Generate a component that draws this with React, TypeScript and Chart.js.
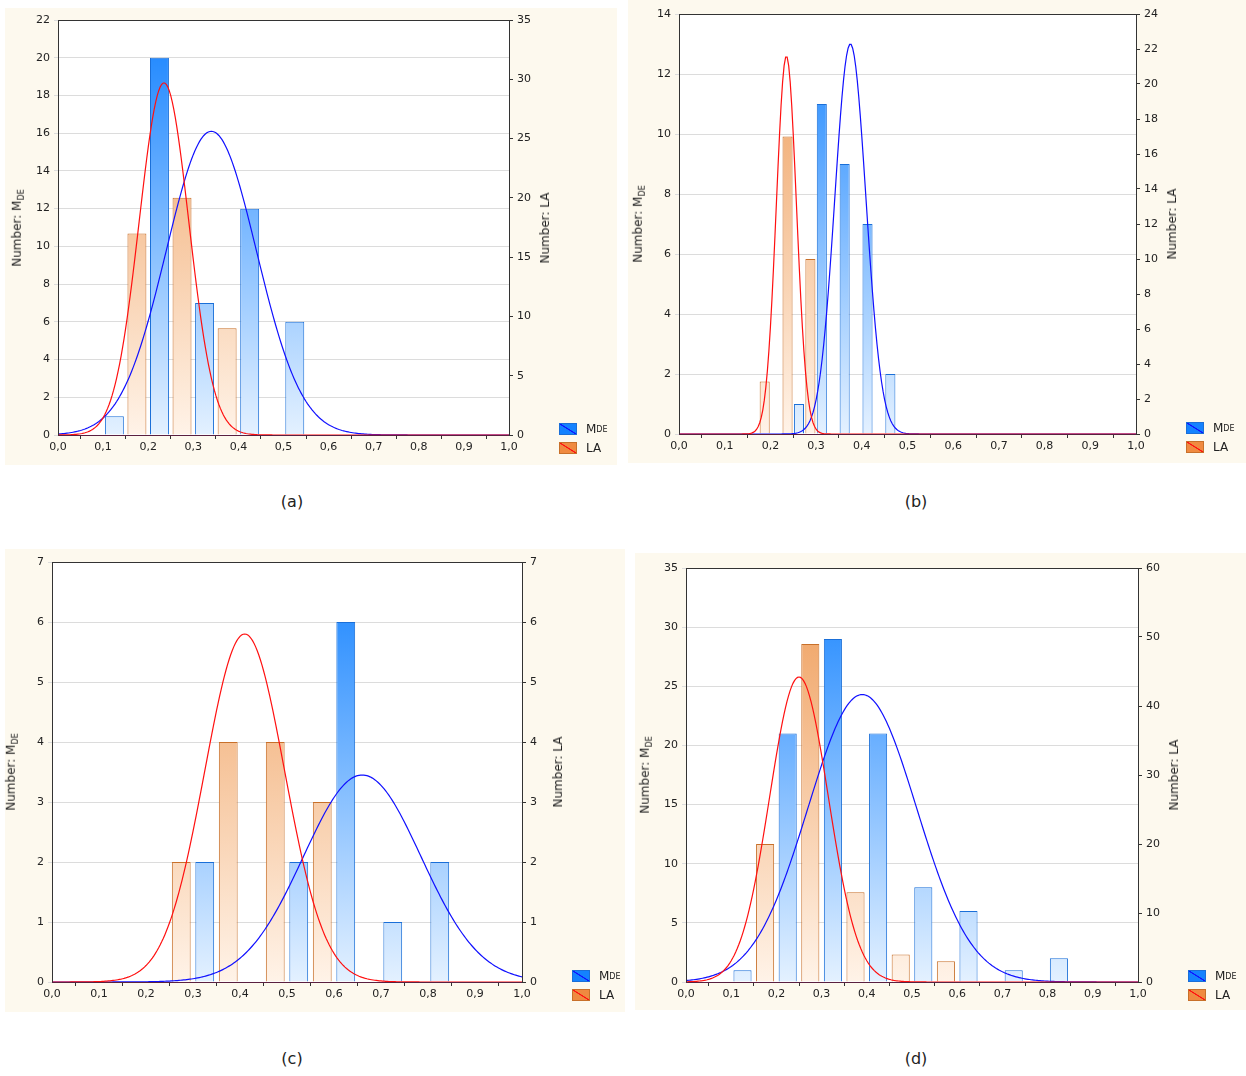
import React, { useRef, useEffect } from 'react';
import { Chart, registerables } from 'chart.js';

Chart.register(...registerables);

// ---- data ----
// (a)
const aBlueX = [0.125, 0.225, 0.325, 0.425, 0.525];
const aBlueY = [1, 20, 7, 12, 6];
const aOrangeX = [0.175, 0.275, 0.375];
const aOrangeY = [17, 20, 9];
// (b)
const bBlueX = [0.2625, 0.3125, 0.3625, 0.4125, 0.4625];
const bBlueY = [1, 11, 9, 7, 2];
const bOrangeX = [0.1875, 0.2375, 0.2875];
const bOrangeY = [3, 17, 10];
// (c)
const cBlueX = [0.325, 0.525, 0.625, 0.725, 0.825];
const cBlueY = [2, 2, 6, 1, 2];
const cOrangeX = [0.275, 0.375, 0.475, 0.575];
const cOrangeY = [2, 4, 4, 3];
// (d)
const dBlueX = [0.125, 0.225, 0.325, 0.425, 0.525, 0.625, 0.725, 0.825];
const dBlueY = [1, 21, 29, 21, 8, 6, 1, 2];
const dOrangeX = [0.175, 0.275, 0.375, 0.475, 0.575];
const dOrangeY = [20, 49, 13, 4, 3];

// fitted normal curves: [mean, sd, peak]
const aBlueFit = [0.34, 0.1, 16.1];
const aRedFit = [0.235, 0.055, 29.7];
const bBlueFit = [0.375, 0.034, 13];
const bRedFit = [0.235, 0.022, 21.6];
const cBlueFit = [0.66, 0.125, 3.45];
const cRedFit = [0.41, 0.085, 5.8];
const dBlueFit = [0.39, 0.12, 24.3];
const dRedFit = [0.25, 0.065, 44.2];

const xTicks = [0, 0.1, 0.2, 0.3, 0.4, 0.5, 0.6, 0.7, 0.8, 0.9, 1.0];
const curveX = Array.from({ length: 301 }, (_, i) => i / 300);

const FONT = "'DejaVu Sans', sans-serif";

interface PanelProps {
  x: number; y: number; w: number; h: number;
  area: [number, number, number, number]; // left, right, top, bottom inside panel
  leftMax: number; leftStep: number; rightMax: number; rightStep: number;
  blueX: number[]; blueY: number[]; orangeX: number[]; orangeY: number[];
  blueFit: number[]; redFit: number[]; barPct: number;
  caption: string; captionX: number; captionY: number;
}

const gauss = (fit: number[]) =>
  curveX.map(x => ({ x, y: fit[2] * Math.exp(-0.5 * ((x - fit[0]) / fit[1]) ** 2) }));

const framePlugin = {
  id: 'frame',
  afterDraw(chart: any) {
    const { ctx, chartArea: a } = chart;
    ctx.save();
    ctx.strokeStyle = '#333';
    ctx.lineWidth = 1;
    ctx.strokeRect(a.left + 0.5, a.top + 0.5, a.right - a.left, a.bottom - a.top);
    ctx.strokeStyle = '#5a2040';
    ctx.beginPath();
    ctx.moveTo(a.left, a.bottom + 0.5);
    ctx.lineTo(a.right, a.bottom + 0.5);
    ctx.stroke();
    ctx.restore();
  },
};

const grad = (chart: any, top: string, bottom: string) => {
  const a = chart.chartArea;
  if (!a) return top;
  const g = chart.ctx.createLinearGradient(0, a.top, 0, a.bottom);
  g.addColorStop(0, top);
  g.addColorStop(1, bottom);
  return g;
};

const Panel: React.FC<PanelProps> = p => {
  const ref = useRef<HTMLCanvasElement>(null);
  useEffect(() => {
    if (!ref.current) return;
    const [L, R, T, B] = p.area;
    const yW = 30;
    const chart = new Chart(ref.current, {
      type: 'bar',
      data: {
        datasets: [
          {
            type: 'line', data: gauss(p.redFit), yAxisID: 'y1', borderColor: '#ff1010',
            borderWidth: 1.2, pointRadius: 0, order: 0,
          } as any,
          {
            type: 'line', data: gauss(p.blueFit), yAxisID: 'y', borderColor: '#1010ff',
            borderWidth: 1.2, pointRadius: 0, order: 0,
          } as any,
          {
            data: p.blueX.map((x, i) => ({ x, y: p.blueY[i] })), yAxisID: 'y',
            backgroundColor: (c: any) => grad(c.chart, '#1482ff', '#e4f1ff'),
            borderColor: '#1a6fd8', borderWidth: 1, barPercentage: p.barPct, categoryPercentage: 1,
            grouped: false, order: 1,
          },
          {
            data: p.orangeX.map((x, i) => ({ x, y: p.orangeY[i] })), yAxisID: 'y1',
            backgroundColor: (c: any) => grad(c.chart, '#ee9a55', '#fff3e8'),
            borderColor: '#c8702a', borderWidth: 1, barPercentage: p.barPct, categoryPercentage: 1,
            grouped: false, order: 1,
          },
        ],
      },
      options: {
        animation: false,
        responsive: false,
        layout: { padding: { left: L - yW, right: p.w - R - yW, top: T, bottom: p.h - B - 22 } },
        plugins: { legend: { display: false }, tooltip: { enabled: false } },
        scales: {
          x: {
            type: 'linear', min: 0, max: 1, offset: false,
            afterBuildTicks: (s: any) => { s.ticks = xTicks.map(v => ({ value: v })); },
            afterFit: (s: any) => { s.height = 22; },
            ticks: {
              color: '#222', font: { family: FONT, size: 11 }, padding: 2, maxRotation: 0,
              callback: (v: any) => Number(v).toFixed(1).replace('.', ','),
            },
            grid: { drawOnChartArea: false, color: '#333', tickLength: 4 },
            border: { color: '#333' },
          },
          y: {
            position: 'left', min: 0, max: p.leftMax,
            afterFit: (s: any) => { s.width = yW; },
            ticks: { stepSize: p.leftStep, color: '#222', font: { family: FONT, size: 11 }, padding: 4 },
            grid: { color: '#dcdcdc', tickLength: 4 },
            border: { color: '#333' },
          },
          y1: {
            position: 'right', min: 0, max: p.rightMax,
            afterFit: (s: any) => { s.width = yW; },
            ticks: { stepSize: p.rightStep, color: '#222', font: { family: FONT, size: 11 }, padding: 4 },
            grid: { drawOnChartArea: false, color: '#333', tickLength: 4 },
            border: { color: '#333' },
          },
        },
      } as any,
      plugins: [framePlugin, {
        id: 'bg',
        beforeDraw(c: any) {
          const a = c.chartArea;
          c.ctx.save();
          c.ctx.fillStyle = '#fff';
          c.ctx.fillRect(a.left, a.top, a.right - a.left, a.bottom - a.top);
          c.ctx.restore();
        },
      }],
    });
    return () => chart.destroy();
  }, []);

  const [L, R, T, B] = p.area;
  const mid = (T + B) / 2;
  const txt: React.CSSProperties = { position: 'absolute', fontFamily: FONT, fontSize: 12, color: '#222', whiteSpace: 'nowrap' };
  return (
    <>
      <div style={{ position: 'absolute', left: p.x, top: p.y, width: p.w, height: p.h, background: '#fdf9ee' }}>
        <canvas ref={ref} width={p.w} height={p.h} style={{ display: 'block' }} />
        <div style={{ ...txt, left: L - 40, top: mid, transform: 'translate(-50%,-50%) rotate(-90deg)' }}>
          Number: M<sub style={{ fontSize: 8 }}>DE</sub>
        </div>
        <div style={{ ...txt, left: R + 36, top: mid, transform: 'translate(-50%,-50%) rotate(-90deg)' }}>
          Number: LA
        </div>
        <div style={{ position: 'absolute', left: R + 50, top: B - 16, fontFamily: FONT, fontSize: 12, color: '#222' }}>
          <div style={{ display: 'flex', alignItems: 'center', height: 20 }}>
            <span style={{ width: 16, height: 10, background: 'linear-gradient(to top right,#1482ff 45%,#1010ff 48%,#1010ff 52%,#1482ff 55%)', border: '1px solid #1a6fd8', marginRight: 9 }} />
            M<sub style={{ fontSize: 8 }}>DE</sub>
          </div>
          <div style={{ display: 'flex', alignItems: 'center', height: 18 }}>
            <span style={{ width: 16, height: 10, background: 'linear-gradient(to top right,#f08a40 45%,#ff1010 48%,#ff1010 52%,#f08a40 55%)', border: '1px solid #c8702a', marginRight: 9 }} />
            LA
          </div>
        </div>
      </div>
      <div style={{ position: 'absolute', left: p.captionX - 20, width: 40, textAlign: 'center', top: p.captionY - 10, fontFamily: FONT, fontSize: 16, color: '#222' }}>
        {p.caption}
      </div>
    </>
  );
};

export default function App() {
  return (
    <div style={{ position: 'absolute', left: 0, top: 0, width: 1246, height: 1076, background: '#fff' }}>
      <Panel x={5} y={8} w={612} h={457} area={[53, 504, 12, 427]} leftMax={22} leftStep={2} rightMax={35} rightStep={5}
        blueX={aBlueX} blueY={aBlueY} orangeX={aOrangeX} orangeY={aOrangeY} blueFit={aBlueFit} redFit={aRedFit}
        barPct={0.84} caption="(a)" captionX={292} captionY={502} />
      <Panel x={628} y={0} w={618} h={463} area={[51, 508, 14, 434]} leftMax={14} leftStep={2} rightMax={24} rightStep={2}
        blueX={bBlueX} blueY={bBlueY} orangeX={bOrangeX} orangeY={bOrangeY} blueFit={bBlueFit} redFit={bRedFit}
        barPct={0.88} caption="(b)" captionX={916} captionY={502} />
      <Panel x={5} y={549} w={620} h={463} area={[47, 517, 13, 433]} leftMax={7} leftStep={1} rightMax={7} rightStep={1}
        blueX={cBlueX} blueY={cBlueY} orangeX={cOrangeX} orangeY={cOrangeY} blueFit={cBlueFit} redFit={cRedFit}
        barPct={0.8} caption="(c)" captionX={292} captionY={1059} />
      <Panel x={635} y={553} w={611} h={457} area={[51, 503, 15, 429]} leftMax={35} leftStep={5} rightMax={60} rightStep={10}
        blueX={dBlueX} blueY={dBlueY} orangeX={dOrangeX} orangeY={dOrangeY} blueFit={dBlueFit} redFit={dRedFit}
        barPct={0.8} caption="(d)" captionX={916} captionY={1059} />
    </div>
  );
}
